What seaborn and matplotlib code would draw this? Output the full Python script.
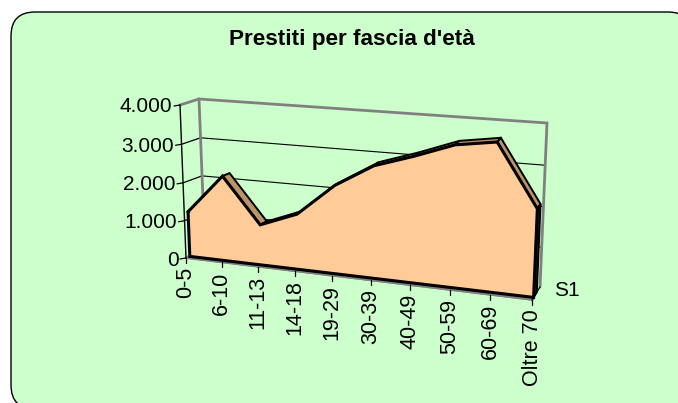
import numpy as np
import pandas as pd
import matplotlib
matplotlib.use("Agg")
import matplotlib.pyplot as plt
from matplotlib.patches import FancyBboxPatch
from matplotlib.transforms import Transform
import seaborn as sns

categories = ["0-5", "6-10", "11-13", "14-18", "19-29", "30-39", "40-49", "50-59", "60-69", "Oltre 70"]
values = [1200, 2230, 1060, 1440, 2270, 2850, 3170, 3530, 3680, 2180]
ytick_values = [0, 1000, 2000, 3000, 4000]
ytick_labels = ["0", "1.000", "2.000", "3.000", "4.000"]
title = "Prestiti per fascia d'età"
series_name = "S1"

W, H = 678, 403
sns.set_theme(style="white")
plt.rcParams["font.family"] = ["Liberation Sans", "DejaVu Sans"]


def homography(src, dst):
    A = []
    for (x, y), (u, v) in zip(src, dst):
        A.append([x, y, 1, 0, 0, 0, -u * x, -u * y, -u])
        A.append([0, 0, 0, x, y, 1, -v * x, -v * y, -v])
    return np.linalg.svd(np.array(A, float))[2][-1].reshape(3, 3)


n = len(categories)
plane = [(0, 0), (n - 1, 0), (0, 4000), (n - 1, 4000)]
H_front = homography(plane, [(186, 258), (532, 300), (180, 105), (539, 134)])
H_back = homography(plane, [(205, 250), (540, 287), (199, 99), (547, 123)])


class Chart3D(Transform):
    input_dims = output_dims = 2

    def __init__(self, layer):
        super().__init__()
        self.layer = layer

    def transform_non_affine(self, pts):
        pts = np.asarray(pts, float)
        h = np.c_[pts, np.ones(len(pts))]
        f = h @ H_front.T
        b = h @ H_back.T
        p = (1 - self.layer) * f[:, :2] / f[:, [2]] + self.layer * b[:, :2] / b[:, [2]]
        # picture pixels (y down) to display pixels
        return np.c_[p[:, 0], H - p[:, 1]]


fig = plt.figure(figsize=(W / 100, H / 100), dpi=100, facecolor="white")
ax = fig.add_axes([0, 0, 1, 1])
ax.set_xlim(0, W)
ax.set_ylim(H, 0)
ax.axis("off")

ax.add_patch(FancyBboxPatch((11, 12), 681, 397, boxstyle="round,pad=0,rounding_size=24",
                            fc="#CCFFCC", ec="black", lw=1.0, clip_on=True))

back = Chart3D(1.0)
front = Chart3D(0.0)
d1, d2 = Chart3D(0.2), Chart3D(0.6)
xs = np.arange(n)
GRAY = "#808080"

# Gridlines, then back wall
for v in ytick_values[1:4]:
    ax.plot([0, n - 1], [v, v], transform=back, color="black", lw=0.8, zorder=2)
ax.plot([0, 0, n - 1, n - 1], [0, 4000, 4000, 0], transform=back, color=GRAY, lw=2.0, zorder=2.5, solid_joinstyle="miter")

# Side wall lines from front axis to back wall
for v in ytick_values:
    p = front.transform([(0, v)])[0]
    q = back.transform([(0, v)])[0]
    ax.plot([p[0], q[0]], [H - p[1], H - q[1]], color="black" if v < 4000 else GRAY, lw=0.9 if v < 4000 else 2.0, zorder=2)

# Floor edge in gray under the area
ax.plot([0, n - 1], [0, 0], transform=Chart3D(0.08), color=GRAY, lw=2.5, zorder=3)
# front value axis
ax.plot([0, 0], [0, 4000], transform=front, color="black", lw=1.0, zorder=6)
ax.plot([0, n - 1], [0, 0], transform=front, color=GRAY, lw=1.0, zorder=3)

# Top surfaces of the area (rear to front)
for i in range(n - 1):
    quad = np.array([[xs[i], values[i]], [xs[i + 1], values[i + 1]]])
    a = d1.transform(quad)
    b = d2.transform(quad[::-1])
    pts = np.r_[a, b]
    ax.fill(pts[:, 0], H - pts[:, 1], fc="#BC9468", ec="black", lw=1.4, zorder=4)
# End cap
cap = np.array([[n - 1, 0], [n - 1, values[-1]]])
a = d1.transform(cap)
b = d2.transform(cap[::-1])
pts = np.r_[a, b]
ax.fill(pts[:, 0], H - pts[:, 1], fc="#222222", ec="black", lw=1.4, zorder=4)

# Front face
ax.fill_between(xs, 0, values, transform=d1, color="#FFCC99", lw=0, zorder=5)
df = pd.DataFrame({"x": list(xs) + [n - 1, 0, 0], "v": values + [0, 0, values[0]], "o": range(n + 3)})
sns.lineplot(data=df, x="x", y="v", sort=False, estimator=None, ax=ax, transform=d1, color="black", lw=2.2, zorder=6,
             solid_joinstyle="miter")

# Y ticks and labels
for v, lab in zip(ytick_values, ytick_labels):
    p = front.transform([(0, v)])[0]
    ax.plot([p[0] - 6, p[0]], [H - p[1] + 1, H - p[1]], color="black", lw=0.9, zorder=6)
    ax.text(p[0] - 7.5, H - p[1] + 2, lab, ha="right", va="center", fontsize=15, color="black")

# X ticks and labels
for i, lab in enumerate(categories):
    p = front.transform([(i, 0)])[0]
    ax.plot([p[0], p[0]], [H - p[1], H - p[1] + 5], color="black", lw=0.9, zorder=6)
    ax.text(p[0], H - p[1] + 9, lab, rotation=90, ha="center", va="top", fontsize=15.5, color="black")

# Series tick and label
p = front.transform([(n - 1, 0)])[0]
q = back.transform([(n - 1, 0)])[0]
ax.plot([p[0], q[0]], [H - p[1], H - q[1]], color="black", lw=0.9, zorder=3)
ax.text(554, 291, series_name, ha="left", va="center", fontsize=15, color="black")

ax.text(352, 40, title, ha="center", va="center", fontsize=16.2, fontweight="bold", color="black")
ax.set_xlim(0, W)
ax.set_ylim(H, 0)
ax.set_xlabel("")
ax.set_ylabel("")
legend = ax.get_legend()
if legend:
    legend.remove()
fig.savefig("out.png", dpi=100, facecolor="white")
